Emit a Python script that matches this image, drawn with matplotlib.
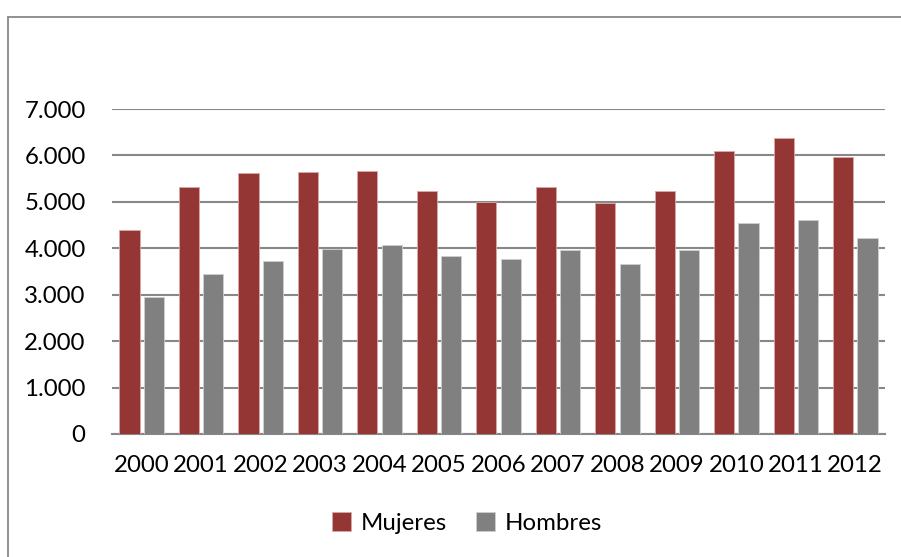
import numpy as np
import matplotlib.pyplot as plt
from matplotlib.patches import Rectangle
from matplotlib.ticker import FuncFormatter

plt.rcParams['font.family'] = ['Lato', 'DejaVu Sans']

years = ['2000', '2001', '2002', '2003', '2004', '2005', '2006',
         '2007', '2008', '2009', '2010', '2011', '2012']
mujeres = [4400, 5320, 5620, 5650, 5670, 5240, 4990, 5330, 4970, 5240, 6100, 6370, 5970]
hombres = [2950, 3450, 3720, 3980, 4070, 3830, 3770, 3970, 3660, 3970, 4550, 4600, 4220]

COLOR_M = '#943634'
COLOR_H = '#808080'
GRID = '#888888'

fig = plt.figure(figsize=(9.01, 5.57), dpi=100)
ax = fig.add_axes([112/901, 1-434/557, (885-112)/901, (434-109)/557])

x = np.arange(len(years))
w = 0.34
ax.bar(x - 0.205, mujeres, w, color=COLOR_M, edgecolor='#d9a9a8', linewidth=0.6, label='Mujeres', zorder=3)
ax.bar(x + 0.205, hombres, w, color=COLOR_H, edgecolor='#cfcfcf', linewidth=0.6, label='Hombres', zorder=3)

ax.set_xlim(-0.5, len(years) - 0.5)
ax.set_ylim(0, 7000)
ax.set_yticks(np.arange(0, 7001, 1000))
ax.yaxis.set_major_formatter(FuncFormatter(lambda v, p: f"{int(v):,}".replace(",", ".")))
ax.set_xticks(x)
ax.set_xticklabels(years)
ax.grid(axis='y', color=GRID, linewidth=1.5, zorder=0)
for s in ['top', 'right', 'left']:
    ax.spines[s].set_visible(False)
ax.spines['bottom'].set_color(GRID)
ax.spines['bottom'].set_linewidth(1.5)
ax.tick_params(axis='y', length=0, pad=19, labelsize=17.3)
ax.tick_params(axis='x', length=0, pad=15, labelsize=17.3)

# outer chart frame
fig.patches.append(Rectangle((8/901, -0.05), 1.0, 1 - 17/557 + 0.05, transform=fig.transFigure,
                             fill=False, edgecolor=GRID, linewidth=1.3))

fig.legend(loc='center', bbox_to_anchor=(467/901, 1-523/557), ncol=2, frameon=False,
           fontsize=17.3, handlelength=0.8, handleheight=0.8, handletextpad=0.4,
           columnspacing=1.2)

fig.savefig('out.png', dpi=100)
